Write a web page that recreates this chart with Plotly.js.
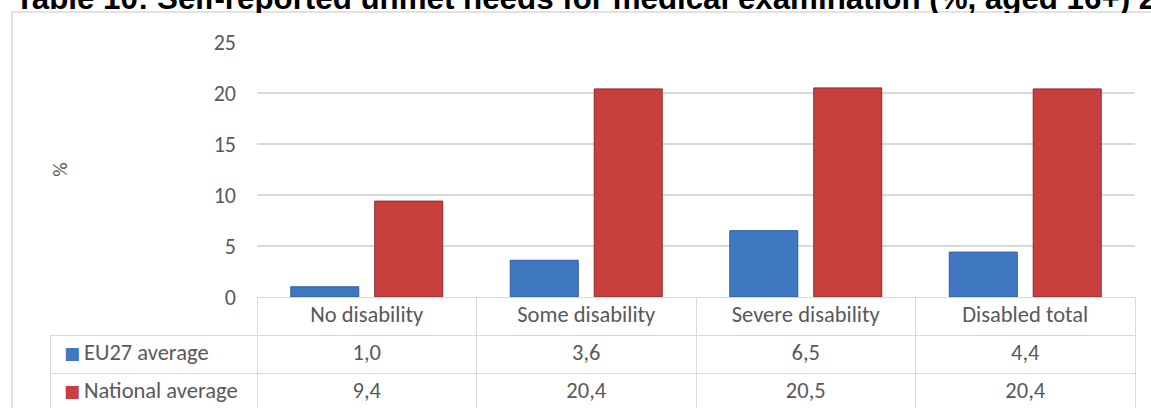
<!DOCTYPE html>
<html>
<head>
<meta charset="utf-8">
<script src="https://cdn.plot.ly/plotly-3.0.1.min.js"></script>
<style>
  html, body { margin: 0; padding: 0; overflow: hidden; background: #ffffff; }
  #chart { width: 1151px; height: 414px; }
</style>
</head>
<body>
<div id="chart"></div>
<script>
// ---- data ----
const titleText = 'Table 10: Self-reported unmet needs for medical examination (%, aged 16+) 2019';
const categories = ['No disability', 'Some disability', 'Severe disability', 'Disabled total'];
const seriesNames = ['EU27 average', 'National average'];
const eu27 = [1.0, 3.6, 6.5, 4.4];
const national = [9.4, 20.4, 20.5, 20.4];
const yTickVals = [0, 5, 10, 15, 20, 25];
const yAxisTitle = '%';

// ---- styling ----
const W = 1151, H = 414;
const blue = '#3f78c1', blueLine = '#2d5d9a';
const red = '#c8403d', redLine = '#8f2b29';
const seriesColors = [blue, red];
const grey = '#595959', gridGrey = '#d9d9d9';
const bodyFont = 'Carlito, Calibri, Lato, sans-serif';

const px = x => x / W;          // horizontal pixel -> paper
const py = y => 1 - y / H;      // vertical pixel (from top) -> paper

const fmt = v => v.toFixed(1).replace('.', ',');

const barEU = {
  type: 'bar', name: seriesNames[0], x: categories, y: eu27,
  marker: { color: blue, line: { color: blueLine, width: 1 } },
  hoverinfo: 'x+y+name', showlegend: false, xaxis: 'x', yaxis: 'y'
};
const barNat = {
  type: 'bar', name: seriesNames[1], x: categories, y: national,
  marker: { color: red, line: { color: redLine, width: 1 } },
  hoverinfo: 'x+y+name', showlegend: false, xaxis: 'x', yaxis: 'y'
};

const tableValues = [seriesNames.map(() => '')].concat(
  categories.map((c, i) => [fmt(eu27[i]), fmt(national[i])])
);

const TOP = 297, ROW = 38;
const table = {
  type: 'table',
  domain: { x: [px(50), px(1135)], y: [0, py(TOP)] },
  columnwidth: [207, 219.5, 219.5, 219.5, 219.5],
  header: {
    values: [''].concat(categories),
    height: ROW,
    align: 'center',
    fill: { color: ['rgba(255,255,255,0)', '#ffffff', '#ffffff', '#ffffff', '#ffffff'] },
    line: { color: ['rgba(255,255,255,0)', gridGrey, gridGrey, gridGrey, gridGrey], width: 1 },
    font: { family: bodyFont, size: 22.5, color: grey }
  },
  cells: {
    values: tableValues,
    height: ROW,
    align: ['left', 'center', 'center', 'center', 'center'],
    fill: { color: '#ffffff' },
    line: { color: gridGrey, width: 1 },
    font: { family: bodyFont, size: 22.5, color: grey }
  }
};

// legend keys + labels inside the data table (one per series)
const keyAnnotations = seriesNames.map((n, i) => ({
  text: '■', xref: 'paper', yref: 'paper',
  x: px(72), xanchor: 'center',
  y: py(TOP + ROW * (i + 1) + ROW / 2 - 1), yanchor: 'middle',
  showarrow: false, borderpad: 0,
  font: { family: 'DejaVu Sans, sans-serif', size: 17, color: seriesColors[i] }
}));
const labelAnnotations = seriesNames.map((n, i) => ({
  text: n, xref: 'paper', yref: 'paper',
  x: px(83), xanchor: 'left',
  y: py(TOP + ROW * (i + 1) + ROW / 2 - 2), yanchor: 'middle',
  showarrow: false, borderpad: 0,
  font: { family: bodyFont, size: 22.5, color: grey }
}));

const layout = {
  width: W, height: H,
  margin: { l: 0, r: 0, t: 0, b: 0, pad: 0 },
  paper_bgcolor: '#ffffff', plot_bgcolor: 'rgba(0,0,0,0)',
  showlegend: false,
  barmode: 'group', bargap: 0.235, bargroupgap: 0.19,
  xaxis: {
    domain: [px(257), px(1135)],
    type: 'category',
    showticklabels: false, showline: false, showgrid: false, zeroline: false, ticks: ''
  },
  yaxis: {
    domain: [py(TOP), py(42)],
    range: [0, 25],
    tickvals: yTickVals,
    showline: false, zeroline: false,
    showgrid: true, gridcolor: gridGrey, gridwidth: 1.3,
    ticks: '', ticklabelstandoff: 20,
    tickfont: { family: bodyFont, size: 22, color: grey },
    title: { text: yAxisTitle, standoff: 140, font: { family: bodyFont, size: 20, color: grey } }
  },
  shapes: [
    { type: 'rect', xref: 'paper', yref: 'paper',
      x0: px(12), x1: px(1170), y0: py(12), y1: py(430),
      line: { color: gridGrey, width: 1.5 }, fillcolor: 'rgba(0,0,0,0)', layer: 'below' }
  ],
  annotations: [
    { text: '<b>' + titleText + '</b>', xref: 'paper', yref: 'paper',
      x: px(14), xanchor: 'left', y: py(17), yanchor: 'bottom',
      showarrow: false, align: 'left', borderpad: 0,
      font: { family: 'Liberation Sans, Arial, sans-serif', size: 31.3, color: '#000000' } },
    { text: ' ', xref: 'paper', yref: 'paper',
      x: px(13), xanchor: 'left', y: py(13), yanchor: 'top',
      width: 1150, height: 16, bgcolor: '#ffffff', borderwidth: 0, borderpad: 0,
      showarrow: false }
  ].concat(keyAnnotations, labelAnnotations)
};

Plotly.newPlot('chart', [barEU, barNat, table], layout, { displayModeBar: false, staticPlot: true });
</script>
</body>
</html>
